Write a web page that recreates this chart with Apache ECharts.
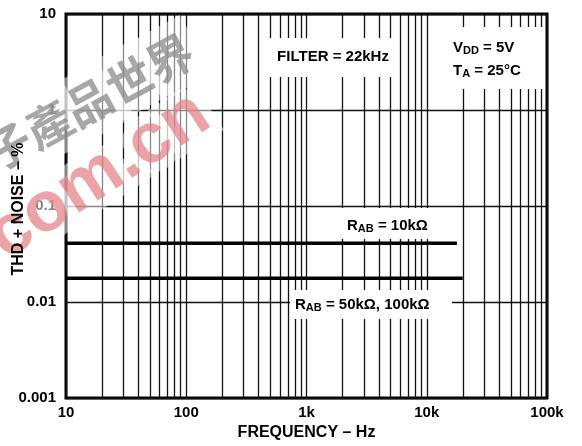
<!DOCTYPE html>
<html>
<head>
<meta charset="utf-8">
<script src="https://cdn.jsdelivr.net/npm/echarts@6/dist/echarts.min.js"></script>
<style>
html,body{margin:0;padding:0;background:#fff;}
#chart{width:582px;height:446px;}
</style>
</head>
<body>
<div id="chart"></div>
<script>
// ---- data ----
const xTickValues = [10, 100, 1000, 10000, 100000];
const xTickLabels = ['10', '100', '1k', '10k', '100k'];
const yTickValues = [0.001, 0.01, 0.1, 1, 10];
const yTickLabels = ['0.001', '0.01', '0.1', '1', '10'];
const minorGridMultipliers = [2, 3, 4, 5, 6, 7, 8, 9];
const minorGridDecades = [10, 100, 1000, 10000];

const seriesNames = ['RAB = 10kΩ', 'RAB = 50kΩ, 100kΩ'];
const rab10kFreq = [10, 17800];
const rab10kThd = [0.041, 0.041];
const rab50kFreq = [10, 19900];
const rab50kThd = [0.0177, 0.0177];

const xAxisTitle = 'FREQUENCY – Hz';
const yAxisTitle = 'THD + NOISE – %';
const watermarkCn = '電子產品世界';
const watermarkUrl = 'com.cn';

// ---- build ----
const minorGridFreqs = [];
minorGridDecades.forEach(d => minorGridMultipliers.forEach(m => minorGridFreqs.push(d * m)));

function labelFor(values, labels) {
  return function (v) {
    const lv = Math.log10(v);
    for (let i = 0; i < values.length; i++) {
      if (Math.abs(Math.log10(values[i]) - lv) < 1e-6) return labels[i];
    }
    return '';
  };
}
function pairs(xs, ys) { return xs.map((x, i) => [x, ys[i]]); }

const FONT = '"Liberation Sans", Arial, sans-serif';
const CJK = '"Noto Sans CJK TC", "Noto Sans CJK SC", sans-serif';
const chart = echarts.init(document.getElementById('chart'), null, {renderer: 'canvas'});

const lblStyle = {fontFamily: FONT, fontWeight: 'bold', fontSize: 15, fill: '#000'};
const subRich = {sub: {fontFamily: FONT, fontWeight: 'bold', fontSize: 11, fill: '#000', padding: [6, 0, 0, 0]}};

const cnWm = {x: 190, y: 47, rotation: 0.5};
const urlWm = {x: 203, y: 108, rotation: 0.58};

chart.setOption({
  animation: false,
  backgroundColor: '#fff',
  grid: {left: 66, right: 35, top: 14, bottom: 48, containLabel: false, outerBoundsMode: 'none',
    show: true, borderColor: '#000', borderWidth: 3, backgroundColor: 'transparent'},
  xAxis: {
    type: 'log', logBase: 10, min: 10, max: 100000,
    name: xAxisTitle, nameLocation: 'middle', nameGap: 27, nameMoveOverlap: false,
    nameTextStyle: {fontFamily: FONT, fontWeight: 'bold', fontSize: 16, color: '#000'},
    axisLine: {show: false}, axisTick: {show: false},
    axisLabel: {fontFamily: FONT, fontWeight: 'bold', fontSize: 15, color: '#000', margin: 7,
      formatter: labelFor(xTickValues, xTickLabels)},
    splitLine: {show: true, lineStyle: {color: '#111', width: 1.3}},
    minorTick: {show: false}, minorSplitLine: {show: false}
  },
  yAxis: {
    type: 'log', logBase: 10, min: 0.001, max: 10,
    axisLine: {show: false}, axisTick: {show: false},
    axisLabel: {fontFamily: FONT, fontWeight: 'bold', fontSize: 15, color: '#000', margin: 10,
      formatter: labelFor(yTickValues, yTickLabels)},
    splitLine: {show: true, lineStyle: {color: '#111', width: 1.3}}
  },
  series: [
    {
      name: seriesNames[0], type: 'line', data: pairs(rab10kFreq, rab10kThd),
      symbol: 'none', lineStyle: {color: '#000', width: 3.5}, z: 5,
      markLine: {
        silent: true, symbol: 'none', label: {show: false},
        lineStyle: {color: '#111', width: 1.3, type: 'solid'},
        data: minorGridFreqs.map(f => ({xAxis: f})), z: 1
      }
    },
    {
      name: seriesNames[1], type: 'line', data: pairs(rab50kFreq, rab50kThd),
      symbol: 'none', lineStyle: {color: '#000', width: 3.5}, z: 5
    }
  ],
  graphic: [
    // watermark: white halo, then coloured glyphs
    {type: 'text', x: cnWm.x, y: cnWm.y, rotation: cnWm.rotation, z: 48, silent: true,
      style: {text: watermarkCn, fontFamily: CJK, fontWeight: 'bold', fontSize: 46, fill: 'rgba(255,255,255,0.5)',
        stroke: 'rgba(255,255,255,0.5)', lineWidth: 26, lineJoin: 'round', textAlign: 'right', textVerticalAlign: 'middle'}},
    {type: 'text', x: urlWm.x, y: urlWm.y, rotation: urlWm.rotation, z: 48, silent: true,
      style: {text: watermarkUrl, fontFamily: FONT, fontWeight: 'bold', fontSize: 71, fill: 'rgba(255,255,255,0.5)',
        stroke: 'rgba(255,255,255,0.5)', lineWidth: 20, lineJoin: 'round', textAlign: 'right', textVerticalAlign: 'middle'}},
    {type: 'text', x: cnWm.x, y: cnWm.y, rotation: cnWm.rotation, z: 50, silent: true,
      style: {text: watermarkCn, fontFamily: CJK, fontWeight: 'bold', fontSize: 46, fill: 'rgba(95,95,95,0.55)', textAlign: 'right', textVerticalAlign: 'middle'}},
    {type: 'text', x: urlWm.x, y: urlWm.y, rotation: urlWm.rotation, z: 50, silent: true,
      style: {text: watermarkUrl, fontFamily: FONT, fontWeight: 'bold', fontSize: 71, fill: 'rgba(210,50,60,0.45)', textAlign: 'right', textVerticalAlign: 'middle'}},
    // y axis title (above the watermark)
    {type: 'text', z: 60, x: 19, y: 209, rotation: Math.PI / 2,
      style: {text: yAxisTitle, fontFamily: FONT, fontWeight: 'bold', fontSize: 16, fill: '#000', textAlign: 'center', textVerticalAlign: 'middle'}},
    // annotation boxes
    {type: 'rect', z: 100, shape: {x: 265, y: 38, width: 134, height: 39}, style: {fill: '#fff'}},
    {type: 'text', z: 101, x: 333, y: 57, style: Object.assign({}, lblStyle, {text: 'FILTER = 22kHz', textAlign: 'center', textVerticalAlign: 'middle'})},
    {type: 'rect', z: 100, shape: {x: 438, y: 27, width: 106, height: 62}, style: {fill: '#fff'}},
    {type: 'text', z: 101, x: 453, y: 48, style: Object.assign({}, lblStyle, {text: 'V{sub|DD} = 5V', rich: subRich, textAlign: 'left', textVerticalAlign: 'middle'})},
    {type: 'text', z: 101, x: 453, y: 71, style: Object.assign({}, lblStyle, {text: 'T{sub|A} = 25°C', rich: subRich, textAlign: 'left', textVerticalAlign: 'middle'})},
    {type: 'rect', z: 100, shape: {x: 336, y: 208, width: 119, height: 31}, style: {fill: '#fff'}},
    {type: 'text', z: 101, x: 347, y: 226, style: Object.assign({}, lblStyle, {text: 'R{sub|AB} = 10kΩ', rich: subRich, textAlign: 'left', textVerticalAlign: 'middle'})},
    {type: 'rect', z: 100, shape: {x: 290, y: 290, width: 162, height: 29}, style: {fill: '#fff'}},
    {type: 'text', z: 101, x: 295, y: 305, style: Object.assign({}, lblStyle, {text: 'R{sub|AB} = 50kΩ, 100kΩ', rich: subRich, textAlign: 'left', textVerticalAlign: 'middle'})}
  ]
});
</script>
</body>
</html>
